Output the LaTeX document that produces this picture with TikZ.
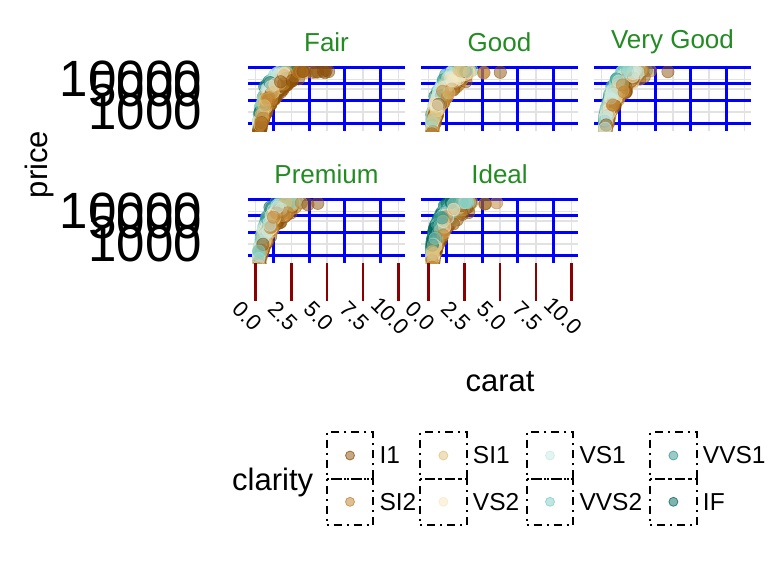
\documentclass[tikz,border=0pt]{standalone}
\usepackage{fontspec}
\setmainfont{Liberation Sans}
\usetikzlibrary{positioning}
\definecolor{stripgreen}{RGB}{34,139,34}
\definecolor{tickred}{RGB}{139,0,0}
\definecolor{gridgrey}{RGB}{226,226,226}
\definecolor{cl1}{HTML}{8C510A}
\definecolor{cl2}{HTML}{BF812D}
\definecolor{cl3}{HTML}{DFC27D}
\definecolor{cl4}{HTML}{F6E8C3}
\definecolor{cl5}{HTML}{C7EAE5}
\definecolor{cl6}{HTML}{80CDC1}
\definecolor{cl7}{HTML}{35978F}
\definecolor{cl8}{HTML}{01665E}
\begin{document}
\begin{tikzpicture}[x=1pt,y=-1pt,
  minorgrid/.style={blue,line width=3pt},
  majorgrid/.style={gridgrey,line width=1.5pt},
  xtick/.style={tickred,line width=2.5pt},
  striplab/.style={text=stripgreen,inner sep=0pt,font=\fontsize{26}{28}\selectfont},
  ylab/.style={anchor=east,inner sep=0pt,font=\fontsize{51}{53}\selectfont},
  xlab/.style={rotate=-45,inner sep=0pt,font=\fontsize{22}{24}\selectfont},
  axtitle/.style={inner sep=0pt,font=\fontsize{31}{33}\selectfont},
  keybox/.style={draw=black,line width=2pt,dash pattern=on 2pt off 5pt on 8pt off 5pt,
    minimum width=46.7pt,minimum height=46.3pt,inner sep=0pt},
  keylab/.style={inner sep=0pt,font=\fontsize{24.5}{26}\selectfont},
  gem/.style={fill=cl#1,draw=cl#1,fill opacity=0.5,draw opacity=0.6,line width=0.6pt},
  keydot/.style={fill=cl#1,draw=cl#1,fill opacity=0.5,draw opacity=0.75,line width=0.8pt}]
\useasboundingbox (0,0) rectangle (768,576);

% facets
\foreach \px/\py/\ptitle/\pname/\pw/\ptail/\pseed in
  {248/66/Fair/fair/1.0/14/11, 421/66/Good/good/0.5/3/12, 594/66/Very Good/vgood/0.3/2/13,
   248/198/Premium/premium/0.4/3/14, 421/198/Ideal/ideal/0.0/3/15}{
  \node[striplab] (strip-\pname) at (\px+78.5,\py-24) {\ptitle};
  \foreach \gy in {13.5,22.8,46.2} \draw[majorgrid] (\px,\py+\gy) -- ++(157,0);
  \foreach \gx in {7.5,43.25,79,114.75,150.5} \draw[majorgrid] (\px+\gx,\py) -- ++(0,65);
  \foreach \gy in {1.5,17.8,34.4,57.6} \draw[minorgrid] (\px,\py+\gy) -- ++(157,0);
  \foreach \gx in {25.4,61.1,96.9,132.6} \draw[minorgrid] (\px+\gx,\py) -- ++(0,65);
  \begin{scope}
    \clip (\px,\py) rectangle ++(157,65);
    \pgfmathsetseed{\pseed}
    \foreach \i in {1,...,600}{
      \pgfmathsetmacro\ca{0.21+3.0*rnd*rnd}
      \pgfmathtruncatemacro\cl{max(1,min(8,1+int(8*((\pw)*rnd*rnd+(1-(\pw))*rnd))))}
      \pgfmathsetmacro\lp{min(4.27,3.65+1.7*log10(\ca)+0.07*(\cl-4.5)+0.45*(rnd-0.5))}
      \pgfmathsetmacro\gx{\px+7.5+14.3*\ca}
      \pgfmathsetmacro\gy{\py+46.3-33*(\lp-3)}
      \path[gem=\cl] (\gx,\gy) circle[radius=6.2pt];
    }
    \foreach \i in {1,...,\ptail}{
      \pgfmathsetmacro\ca{3+2.2*rnd}
      \pgfmathtruncatemacro\cl{1+int(2*rnd)}
      \pgfmathsetmacro\lp{4.27-0.08*rnd}
      \pgfmathsetmacro\gx{\px+7.5+14.3*\ca}
      \pgfmathsetmacro\gy{\py+46.3-33*(\lp-3)}
      \path[gem=\cl] (\gx,\gy) circle[radius=6.2pt];
    }
  \end{scope}
}

% y axis labels
\foreach \row/\ry in {top/66,bottom/198}{
  \node[ylab] (y10000-\row) at (202,\ry+13) {10000};
  \node[ylab] (y5000-\row) at (202,\ry+23) {5000};
  \node[ylab] (y1000-\row) at (202,\ry+45.5) {1000};
}

% x axis
\foreach \px/\pname in {248/premium,421/ideal}{
  \foreach \t/\lab in {0/0.0,1/2.5,2/5.0,3/7.5,4/10.0}{
    \draw[xtick] (\px+7.5+35.75*\t,263) -- ++(0,37.5);
    \node[xlab] (tick-\pname-\t) at (\px+7.5+35.75*\t-8.5,316) {\lab};
  }
}

\node[rotate=90,axtitle] (price) at (39,164.5) {price};
\node[axtitle] (carat) at (500,382) {carat};

% legend
\node[axtitle,anchor=west] (clarity) at (232,482.5) {clarity};
\foreach \kx/\ky/\cl/\lab in {350/455.5/1/I1, 350/501.8/2/SI2, 443.4/455.5/3/SI1,
  443.4/501.8/4/VS2, 550/455.5/5/VS1, 550/501.8/6/VVS2, 673.4/455.5/7/VVS1, 673.4/501.8/8/IF}{
  \node[keybox] (box-\lab) at (\kx,\ky) {};
  \path[keydot=\cl] (box-\lab.center) circle[radius=4.5pt];
  \node[keylab,anchor=west,right=5pt of box-\lab] (key-\lab) {\lab};
}
\end{tikzpicture}
\end{document}
